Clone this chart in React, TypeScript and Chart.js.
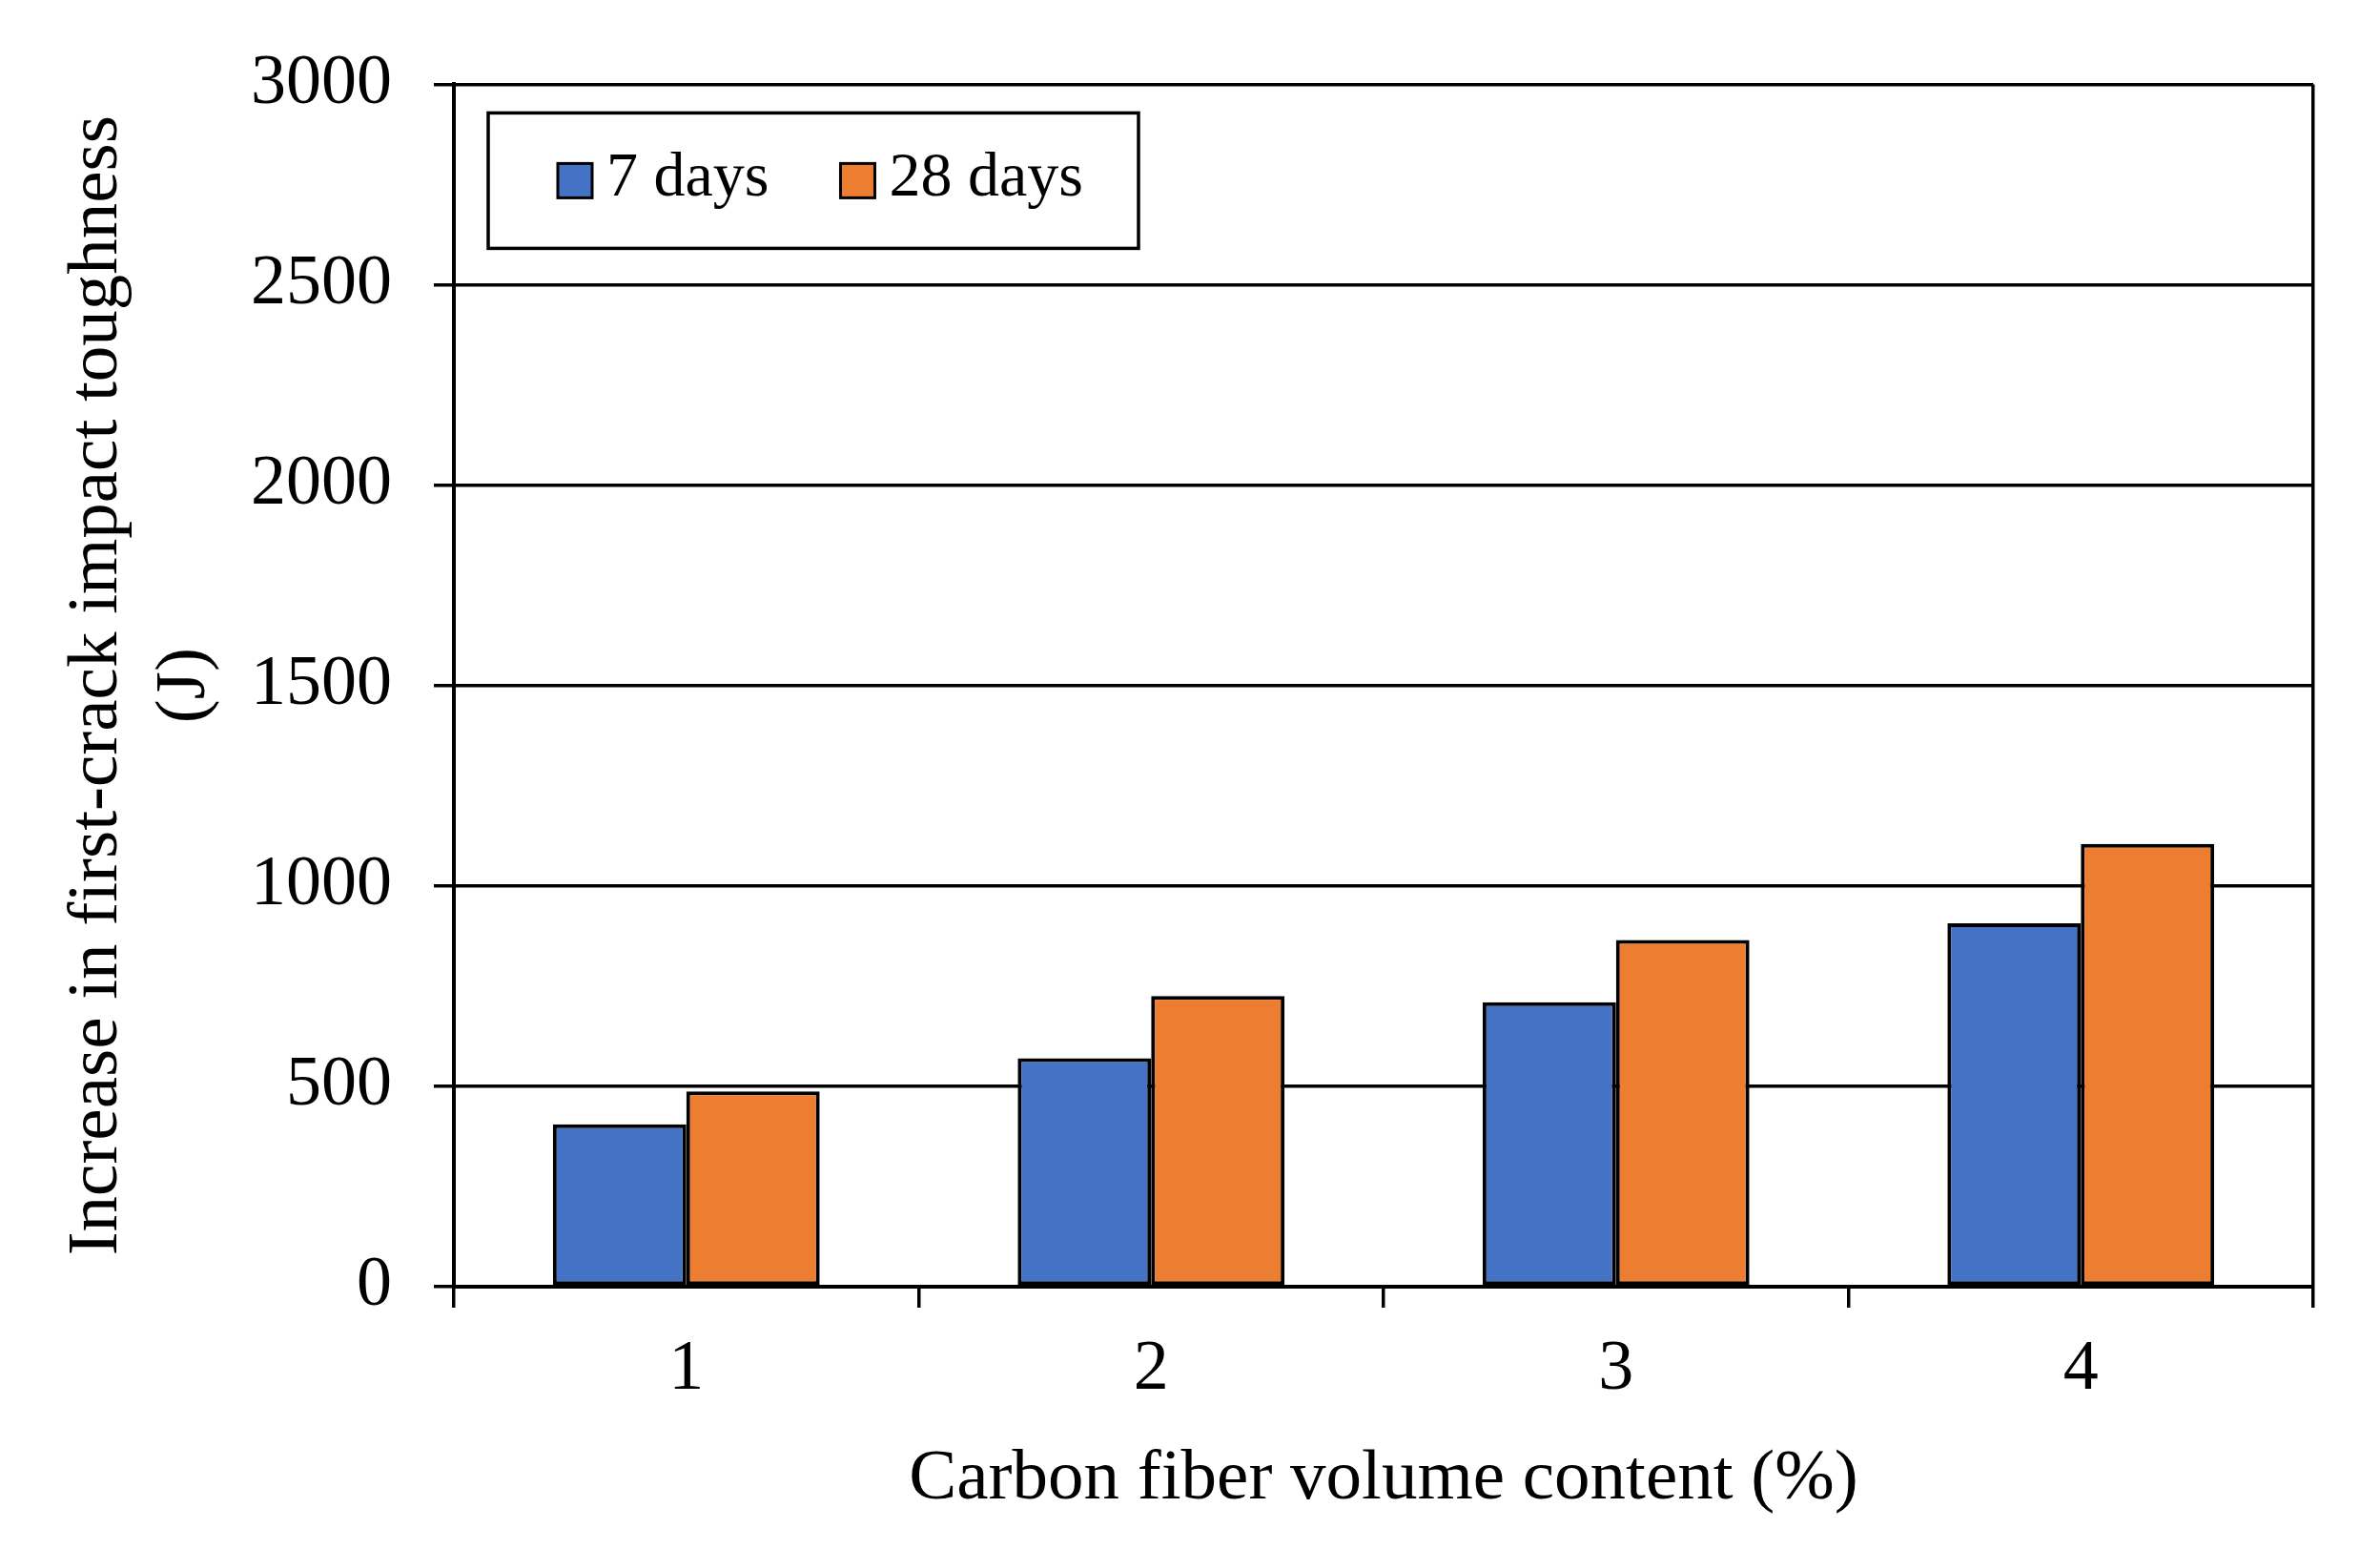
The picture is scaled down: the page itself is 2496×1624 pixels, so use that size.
import React, { useEffect, useRef } from "react";
import { Chart, registerables } from "chart.js";

Chart.register(...registerables);

const categories = ["1", "2", "3", "4"];
const seriesLabels = ["7 days", "28 days"];
const sevenDays = [405, 570, 710, 907];
const twentyEightDays = [487, 725, 865, 1105];
const yTickValues = [0, 500, 1000, 1500, 2000, 2500, 3000];
const xTitle = "Carbon fiber volume content (%)";
const yTitle = ["Increase in first-crack impact toughness", "(J)"];

const BLUE = "#4472C4";
const ORANGE = "#ED7D31";
const FONT = "'Liberation Serif', 'Times New Roman', Times, serif";

const boxedLegend = {
  id: "boxedLegend",
  afterDraw(chart: any) {
    const { ctx, chartArea } = chart;
    const bx = chartArea.left + 36;
    const by = chartArea.top + 30;
    const bw = 682;
    const bh = 142;
    ctx.save();
    ctx.fillStyle = "#ffffff";
    ctx.fillRect(bx, by, bw, bh);
    ctx.lineWidth = 3.5;
    ctx.strokeStyle = "#000000";
    ctx.strokeRect(bx, by, bw, bh);
    ctx.font = `66px ${FONT}`;
    ctx.textBaseline = "middle";
    ctx.textAlign = "left";
    const cy = by + 71;
    const s = 36;
    let x = bx + 73;
    chart.data.datasets.forEach((ds: any) => {
      ctx.fillStyle = ds.backgroundColor;
      ctx.fillRect(x, cy - s / 2, s, s);
      ctx.lineWidth = 3;
      ctx.strokeStyle = "#000000";
      ctx.strokeRect(x, cy - s / 2, s, s);
      ctx.fillStyle = "#000000";
      ctx.fillText(ds.label, x + s + 15, cy - 2);
      x += s + 15 + ctx.measureText(ds.label).width + 75;
    });
    ctx.restore();
  },
};

export default function App() {
  const ref = useRef<HTMLCanvasElement>(null);

  useEffect(() => {
    if (!ref.current) return;
    const chart = new Chart(ref.current, {
      type: "bar",
      data: {
        labels: categories,
        datasets: [
          {
            label: seriesLabels[0],
            data: sevenDays,
            backgroundColor: BLUE,
            borderColor: "#000000",
            borderWidth: 4,
            borderSkipped: false,
            barPercentage: 1,
            categoryPercentage: 0.574,
          },
          {
            label: seriesLabels[1],
            data: twentyEightDays,
            backgroundColor: ORANGE,
            borderColor: "#000000",
            borderWidth: 4,
            borderSkipped: false,
            barPercentage: 1,
            categoryPercentage: 0.574,
          },
        ],
      },
      options: {
        animation: false,
        responsive: true,
        maintainAspectRatio: false,
        layout: { padding: { left: 0, right: 70, top: 85, bottom: 0 } },
        plugins: {
          legend: { display: false },
          tooltip: { enabled: false },
        },
        scales: {
          x: {
            grid: {
              offset: true,
              drawOnChartArea: true,
              drawTicks: true,
              tickLength: 22,
              lineWidth: 3.5,
              tickColor: "#000000",
              color: (c: any) =>
                c.index === undefined || c.index >= categories.length
                  ? "#000000"
                  : "rgba(0,0,0,0)",
            },
            border: { display: true, color: "#000000", width: 4 },
            ticks: {
              color: "#000000",
              font: { family: FONT, size: 74 },
              padding: 21,
              maxRotation: 0,
            },
            title: {
              display: true,
              text: xTitle,
              color: "#000000",
              font: { family: FONT, size: 75, lineHeight: 1.2 },
              padding: { top: 0, bottom: 28 },
            },
            afterFit: (s: any) => {
              s.height = 275;
            },
          },
          y: {
            min: 0,
            max: 3000,
            afterBuildTicks: (s: any) => {
              s.ticks = yTickValues.map((v) => ({ value: v }));
            },
            grid: {
              color: "#000000",
              lineWidth: 3.5,
              tickLength: 21,
              tickColor: "#000000",
            },
            border: { display: true, color: "#000000", width: 4 },
            ticks: {
              color: "#000000",
              font: { family: FONT, size: 74 },
              padding: 44,
              callback: (v: any) => String(v),
            },
            title: {
              display: true,
              text: yTitle,
              color: "#000000",
              font: { family: FONT, size: 75, lineHeight: 1.22 },
              padding: { top: 57, bottom: 0 },
            },
            afterFit: (s: any) => {
              s.width = 476;
            },
          },
        },
      },
      plugins: [boxedLegend],
    });
    return () => chart.destroy();
  }, []);

  return (
    <div
      style={{
        position: "fixed",
        left: 0,
        top: 0,
        width: 2496,
        height: 1624,
        background: "#ffffff",
      }}
    >
      <canvas ref={ref} />
    </div>
  );
}
